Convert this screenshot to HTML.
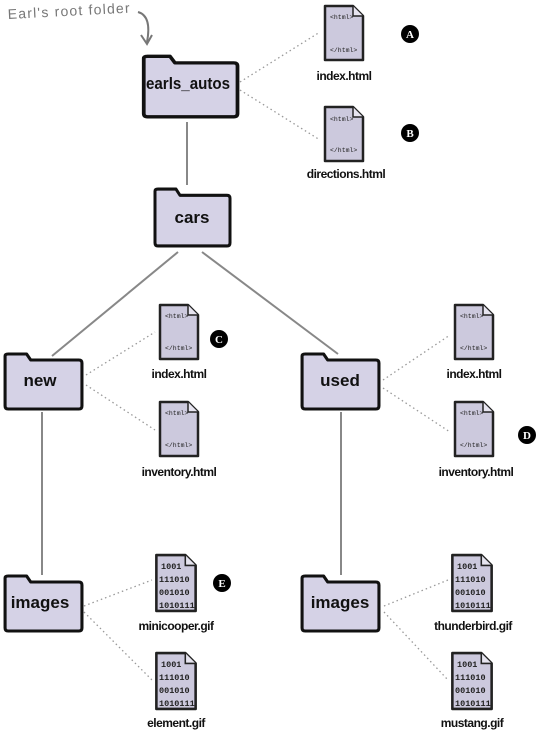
<!DOCTYPE html>
<html><head><meta charset="utf-8"><style>
body{margin:0;background:#fff;width:539px;height:732px;overflow:hidden}
svg text{font-family:"Liberation Sans",Arial,sans-serif}
.lbl{font-size:12px;text-anchor:middle;fill:#111;font-weight:bold;letter-spacing:-0.5px}
.fl{font-size:17px;font-weight:bold;text-anchor:middle;fill:#111}
.code{font-family:"Liberation Mono",monospace;font-size:6.5px;fill:#222}
.bin{font-family:"Liberation Mono",monospace;font-size:8.5px;fill:#222;font-weight:bold}
.bd{font-family:"Liberation Serif",serif;font-weight:bold;font-size:11px;fill:#fff;text-anchor:middle}
</style></head><body>
<svg width="539" height="732" viewBox="0 0 539 732" xmlns="http://www.w3.org/2000/svg">
<defs>
<symbol id="fold" viewBox="0 0 80 60" preserveAspectRatio="none">
<path d="M3,12 L3,5 Q3,3 6,3 L24,3 L28,9 L75,9 Q78,9 78,12 L78,55 Q78,58 75,58 L6,58 Q3,58 3,55 Z" fill="#d5d2e6" stroke="#111" stroke-width="3" stroke-linejoin="round"/>
</symbol>
<symbol id="doc" viewBox="0 0 44 60">
<path d="M3,3 L31,3 L41,13 L41,57 L3,57 Z" fill="#ccc9dd" stroke="#222" stroke-width="2.5" stroke-linejoin="round"/>
<path d="M31,3 L31,13 L41,13" fill="#e6e4ef" stroke="#222" stroke-width="1.5"/>
</symbol>
</defs>
<g stroke="#888" stroke-width="2" fill="none">
<line x1="187" y1="122" x2="187" y2="185"/>
<line x1="178" y1="252" x2="52" y2="356"/>
<line x1="202" y1="252" x2="338" y2="354"/>
<line x1="42" y1="412" x2="42" y2="575"/>
<line x1="341" y1="412" x2="341" y2="575"/>
</g>
<g stroke="#999" stroke-width="1.3" stroke-dasharray="1.5 3" fill="none">
<line x1="240" y1="82" x2="320" y2="32"/>
<line x1="240" y1="90" x2="320" y2="140"/>
<line x1="86" y1="375" x2="155" y2="332"/>
<line x1="86" y1="385" x2="155" y2="430"/>
<line x1="383" y1="380" x2="450" y2="335"/>
<line x1="383" y1="388" x2="450" y2="432"/>
<line x1="84" y1="606" x2="152" y2="580"/>
<line x1="84" y1="612" x2="152" y2="680"/>
<line x1="384" y1="606" x2="448" y2="580"/>
<line x1="384" y1="612" x2="448" y2="680"/>
</g>
<text x="8" y="19" font-family="'DejaVu Sans',sans-serif" font-size="14" fill="#777" textLength="122" transform="rotate(-3 8 19)">Earl's root folder</text>
<path d="M138,12 Q152,16 147,42" stroke="#777" stroke-width="2" fill="none"/>
<path d="M141,35 L147,44 L152,35" stroke="#777" stroke-width="2" fill="none"/>
<use href="#fold" x="140" y="53" width="100" height="66"/>
<text class="fl" x="188" y="89" textLength="84" lengthAdjust="spacingAndGlyphs">earls_autos</text>
<use href="#fold" x="152" y="186" width="80" height="62"/>
<text class="fl" x="192" y="223">cars</text>
<use href="#fold" x="2" y="351" width="82" height="60"/>
<text class="fl" x="40" y="386">new</text>
<use href="#fold" x="299" y="351" width="82" height="60"/>
<text class="fl" x="340" y="386">used</text>
<use href="#fold" x="2" y="573" width="82" height="60"/>
<text class="fl" x="40" y="608">images</text>
<use href="#fold" x="299" y="573" width="82" height="60"/>
<text class="fl" x="340" y="608">images</text>
<g>
<use href="#doc" x="322" y="3" width="44" height="60"/>
<text class="code" x="330" y="19">&lt;html&gt;</text><text class="code" x="330" y="52">&lt;/html&gt;</text>
<text class="lbl" x="344" y="80">index.html</text>
<use href="#doc" x="322" y="104" width="44" height="60"/>
<text class="code" x="330" y="121">&lt;html&gt;</text><text class="code" x="330" y="152">&lt;/html&gt;</text>
<text class="lbl" x="346" y="178">directions.html</text>
<use href="#doc" x="157" y="302" width="44" height="60"/>
<text class="code" x="165" y="318">&lt;html&gt;</text><text class="code" x="165" y="350">&lt;/html&gt;</text>
<text class="lbl" x="179" y="378">index.html</text>
<use href="#doc" x="157" y="399" width="44" height="60"/>
<text class="code" x="165" y="415">&lt;html&gt;</text><text class="code" x="165" y="447">&lt;/html&gt;</text>
<text class="lbl" x="179" y="476">inventory.html</text>
<use href="#doc" x="452" y="302" width="44" height="60"/>
<text class="code" x="460" y="318">&lt;html&gt;</text><text class="code" x="460" y="350">&lt;/html&gt;</text>
<text class="lbl" x="474" y="378">index.html</text>
<use href="#doc" x="452" y="399" width="44" height="60"/>
<text class="code" x="460" y="415">&lt;html&gt;</text><text class="code" x="460" y="447">&lt;/html&gt;</text>
<text class="lbl" x="476" y="476">inventory.html</text>
</g>
<g>
<use href="#doc" x="153" y="552" width="46" height="62"/>
<text class="bin" x="161" y="569">1001</text><text class="bin" x="159" y="582">111010</text><text class="bin" x="159" y="595">001010</text><text class="bin" x="159" y="608">1010111</text>
<text class="lbl" x="176" y="630">minicooper.gif</text>
<use href="#doc" x="153" y="650" width="46" height="62"/>
<text class="bin" x="161" y="667">1001</text><text class="bin" x="159" y="680">111010</text><text class="bin" x="159" y="693">001010</text><text class="bin" x="159" y="706">1010111</text>
<text class="lbl" x="176" y="727">element.gif</text>
<use href="#doc" x="449" y="552" width="46" height="62"/>
<text class="bin" x="457" y="569">1001</text><text class="bin" x="455" y="582">111010</text><text class="bin" x="455" y="595">001010</text><text class="bin" x="455" y="608">1010111</text>
<text class="lbl" x="473" y="630">thunderbird.gif</text>
<use href="#doc" x="449" y="650" width="46" height="62"/>
<text class="bin" x="457" y="667">1001</text><text class="bin" x="455" y="680">111010</text><text class="bin" x="455" y="693">001010</text><text class="bin" x="455" y="706">1010111</text>
<text class="lbl" x="472" y="727">mustang.gif</text>
</g>
<g>
<circle cx="410" cy="34" r="9" fill="#000"/><text class="bd" x="410" y="38">A</text>
<circle cx="410" cy="133" r="9" fill="#000"/><text class="bd" x="410" y="137">B</text>
<circle cx="219" cy="339" r="9" fill="#000"/><text class="bd" x="219" y="343">C</text>
<circle cx="527" cy="435" r="9" fill="#000"/><text class="bd" x="527" y="439">D</text>
<circle cx="222" cy="583" r="9" fill="#000"/><text class="bd" x="222" y="587">E</text>
</g>
</svg>
</body></html>
